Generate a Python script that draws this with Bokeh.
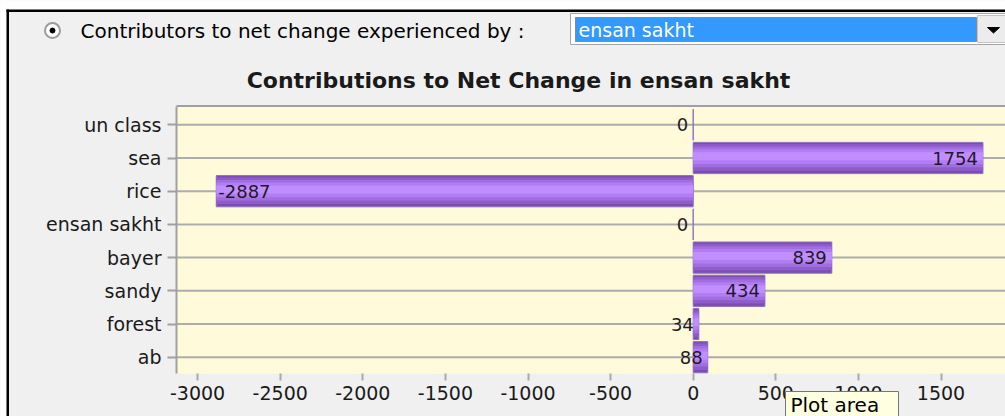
from bokeh.plotting import figure
from bokeh.models import Range1d, FixedTicker, Label, ColumnDataSource
from bokeh.core.properties import value
from bokeh.embed import file_html
from bokeh.resources import INLINE

# ---------------- data ----------------
categories = ["un class", "sea", "rice", "ensan sakht", "bayer", "sandy", "forest", "ab"]
contributions = [0, 1754, -2887, 0, 839, 434, 34, 88]
x_ticks = [-3000, -2500, -2000, -1500, -1000, -500, 0, 500, 1000, 1500]
x_tick_labels = ["-3000", "-2500", "-2000", "-1500", "-1000", "-500", "0", "500", "1000", "1500"]
title_text = "Contributions to Net Change in ensan sakht"
selector_label = "Contributors to net change experienced by :"
selected_class = "ensan sakht"
tooltip_text = "Plot area"

FONT = "DejaVu Sans"
W, H = 1005, 416

# category slots: first category on top
slots = [len(categories) - i for i in range(len(categories))]

# pixel <-> data helpers for the layout (scale of the value axis / category slots)
PX_ZERO, PX_PER_UNIT = 692.7, 0.1652
PY_TOP_SLOT, PY_PER_SLOT = 124.3, 33.2


def dx(px):
    return (px - PX_ZERO) / PX_PER_UNIT


def dy(py):
    return slots[0] + (PY_TOP_SLOT - py) / PY_PER_SLOT


PLOT_L, PLOT_R, PLOT_T, PLOT_B = dx(176), dx(1005), dy(105.5), dy(373.3)

p = figure(width=W, height=H, output_backend="svg", toolbar_location=None,
           x_range=Range1d(dx(0), dx(W)), y_range=Range1d(dy(H), dy(0)),
           min_border=0)
p.min_border_left = p.min_border_right = p.min_border_top = p.min_border_bottom = 0
p.background_fill_color = "#F0F0F0"
p.border_fill_color = "#F0F0F0"
p.outline_line_color = None

# plot area background, grid lines and top border
p.quad(left=[PLOT_L], right=[PLOT_R], bottom=[PLOT_B], top=[PLOT_T],
       fill_color="#FFFAD9", line_color=None, level="image")
p.xgrid.visible = False
p.ygrid.visible = False
p.segment(x0=[PLOT_L] * len(slots), x1=[PLOT_R] * len(slots), y0=slots, y1=slots,
          line_color="#ADADAD", line_width=2, level="underlay")
p.segment(x0=[PLOT_L], x1=[PLOT_R], y0=[PLOT_T], y1=[PLOT_T],
          line_color="#A0A0A0", line_width=2, level="underlay")

src = ColumnDataSource(dict(slot=slots, val=contributions,
                            zero=[0] * len(contributions)))

# gradient-like bars built from stacked layers
p.hbar(y="slot", left="zero", right="val", height=0.94, source=src,
       fill_color="#7B4CB2", line_color="#9070BE", line_width=1)
for h, off, col in [(0.80, 0.015, "#8E5DCA"), (0.62, 0.03, "#A16EE0"),
                    (0.44, 0.04, "#B27DF3"), (0.24, 0.05, "#C18EFF")]:
    lay = ColumnDataSource(dict(slot=[s + off for s in slots], val=contributions,
                                zero=[0] * len(contributions)))
    p.hbar(y="slot", left="zero", right="val", height=h, source=lay,
           fill_color=col, line_color=None)

# value labels
pos = ColumnDataSource(dict(
    slot=[s for s, v in zip(slots, contributions) if v >= 0],
    val=[v for v in contributions if v >= 0],
    lab=[str(v) for v in contributions if v >= 0]))
neg = ColumnDataSource(dict(
    slot=[s for s, v in zip(slots, contributions) if v < 0],
    val=[v for v in contributions if v < 0],
    lab=[str(v) for v in contributions if v < 0]))
p.text(x="val", y="slot", text="lab", source=pos, text_align="right",
       text_baseline="middle", x_offset=-5, text_font=value(FONT),
       text_font_size="18px", text_color="#1E1A2A")
p.text(x="val", y="slot", text="lab", source=neg, text_align="left",
       text_baseline="middle", x_offset=2, text_font=value(FONT),
       text_font_size="18px", text_color="#1E1A2A")

# x axis
xa = p.xaxis[0]
xa.fixed_location = PLOT_B
xa.ticker = FixedTicker(ticks=x_ticks)
xa.major_label_overrides = {t: l for t, l in zip(x_ticks, x_tick_labels)}
xa.axis_line_color = None
xa.major_tick_line_color = "#A8A8A8"
xa.major_tick_line_width = 2
xa.major_tick_in = 0
xa.major_tick_out = 7
xa.minor_tick_line_color = None
xa.major_label_standoff = 5
xa.major_label_text_font = FONT
xa.major_label_text_font_size = "19px"
xa.major_label_text_color = "#1A1A1A"

# y axis (category names)
ya = p.yaxis[0]
ya.fixed_location = PLOT_L
ya.bounds = (PLOT_B, PLOT_T)
ya.ticker = FixedTicker(ticks=slots)
ya.major_label_overrides = {s: c for s, c in zip(slots, categories)}
ya.axis_line_color = "#A0A0A0"
ya.axis_line_width = 2
ya.major_tick_line_color = "#A0A0A0"
ya.major_tick_line_width = 2
ya.major_tick_in = 0
ya.major_tick_out = 9
ya.minor_tick_line_color = None
ya.major_label_standoff = 6
ya.major_label_text_font = FONT
ya.major_label_text_font_size = "19px"
ya.major_label_text_color = "#1A1A1A"


def rect(l, r, t, b, level="glyph", **kw):
    p.quad(left=[dx(l)], right=[dx(r)], top=[dy(t)], bottom=[dy(b)],
           level=level, **kw)


def lab(x, y, text, **kw):
    p.add_layout(Label(x=x, y=y, x_units="canvas", y_units="canvas",
                       text=text, text_font=FONT, **kw))


# page area outside the window frame, and the frame lines
rect(0, 6, 0, 416, fill_color="white", line_color=None, level="overlay")
rect(0, 1005, 0, 9, fill_color="white", line_color=None, level="overlay")
rect(6, 8.5, 9, 416, fill_color="black", line_color=None, level="overlay")
rect(6, 1005, 9, 11.5, fill_color="black", line_color=None, level="overlay")

# radio button
p.scatter(x=[dx(52)], y=[dy(30)], marker="circle", size=15, fill_color="white",
          line_color="#9C9C9C", line_width=2)
p.scatter(x=[dx(52)], y=[dy(30)], marker="circle", size=5, fill_color="black",
          line_color="black")
lab(80, 30, selector_label, text_align="left", text_baseline="middle",
    text_font_size="20px", text_color="#000000")

# dropdown
rect(570, 1006, 13, 44, fill_color="white", line_color="#A5A5A5", line_width=1)
rect(575, 976, 17, 41, fill_color="#3399FF", line_color="#6B4F1D",
     line_dash="1 1", line_width=1)
rect(977, 1006, 15, 42, fill_color="#ECECEC", line_color="#C4C4C4", line_width=1)
p.patch(x=[dx(987), dx(999), dx(993)], y=[dy(27), dy(27), dy(32.5)],
        fill_color="black", line_color="black", line_width=1)
lab(578, 29, selected_class, text_align="left", text_baseline="middle",
    text_font_size="19px", text_color="#FFFFFF")

# chart title
lab(518, 80, title_text, text_align="center", text_baseline="middle",
    text_font_size="22px", text_font_style="bold", text_color="#1A1A1A")

# tooltip
rect(785, 898, 391, 418, fill_color="#FFFFE1", line_color="#767676",
     line_width=1, level="overlay")
lab(790, 404, tooltip_text, text_align="left", text_baseline="middle",
    text_font_size="20px", text_color="#000000", level="overlay")

open("out.html", "w").write(file_html(p, INLINE))
